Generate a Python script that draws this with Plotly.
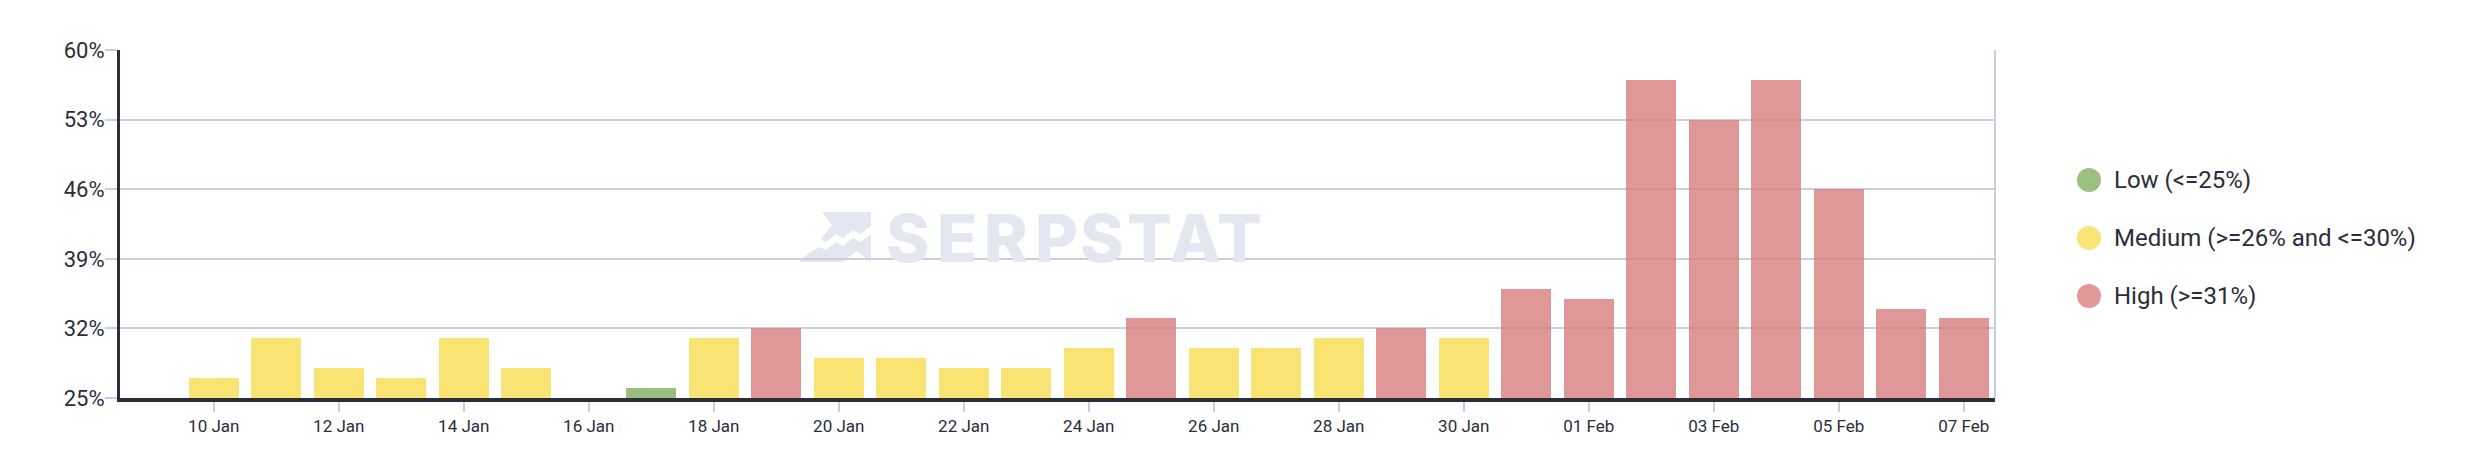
import plotly.graph_objects as go

# Daily share values (%) and their level class
dates = [
    "2024-01-09", "2024-01-10", "2024-01-11", "2024-01-12", "2024-01-13", "2024-01-14",
    "2024-01-15", "2024-01-16", "2024-01-17", "2024-01-18", "2024-01-19", "2024-01-20",
    "2024-01-21", "2024-01-22", "2024-01-23", "2024-01-24", "2024-01-25", "2024-01-26",
    "2024-01-27", "2024-01-28", "2024-01-29", "2024-01-30", "2024-01-31", "2024-02-01",
    "2024-02-02", "2024-02-03", "2024-02-04", "2024-02-05", "2024-02-06", "2024-02-07",
]
values = [
    None, 27, 31, 28, 27, 31,
    28, None, 26, 31, 32, 29,
    29, 28, 28, 30, 33, 30,
    30, 31, 32, 31, 36, 35,
    57, 53, 57, 46, 34, 33,
]
levels = [
    None, "Medium", "Medium", "Medium", "Medium", "Medium",
    "Medium", None, "Low", "Medium", "High", "Medium",
    "Medium", "Medium", "Medium", "Medium", "High", "Medium",
    "Medium", "Medium", "High", "Medium", "High", "High",
    "High", "High", "High", "High", "High", "High",
]

level_names = ["Low", "Medium", "High"]
level_labels = ["Low (<=25%)", "Medium (>=26% and <=30%)", "High (>=31%)"]
level_colors = ["#82af60", "#f7dd51", "#d87f7e"]   # bar colours (drawn at 0.8 opacity)
legend_colors = ["#9bbf80", "#f9e475", "#e09998"]  # as they look over white

y_ticks = [25, 32, 39, 46, 53, 60]

TEXT = "#2b2e38"
GRID = "#c9cfdd"
FONT = "Roboto"

# page is 2476x476, the html body adds an 8px margin around the figure
W, H = 2476, 476
OFF = 8
FIG_W, FIG_H = W - 2 * OFF, H - 2 * OFF
# plot area in page pixels
L, R, T, B = 120, 1995, 50, 398


def px(x):
    return (x - L) / (R - L)


def py(y):
    return (B - y) / (B - T)


color_map = dict(zip(level_names, level_colors))
bar_colors = [color_map.get(lv, level_colors[0]) for lv in levels]

fig = go.Figure()
fig.add_trace(go.Bar(
    x=dates,
    y=values,
    width=0.8 * 86400000,
    marker=dict(color=bar_colors, line=dict(width=0)),
    opacity=0.8,
    showlegend=False,
    hovertemplate="%{x|%d %b}: %{y}%<extra></extra>",
))

# watermark: SERPSTAT logo + text, behind the grid
logo_upper = [(822, 212), (871, 212), (871, 226), (861, 234), (853, 230), (843, 238),
              (836, 234), (826, 242), (821, 239), (832, 225)]
logo_lower = [(798, 262), (842, 262), (857, 251), (871, 262), (871, 234), (861, 242),
              (853, 238), (843, 246), (836, 242), (826, 250), (819, 247), (809, 253)]
shapes = []
for poly in (logo_upper, logo_lower):
    path = "M " + " L ".join(f"{px(x):.5f},{py(y):.5f}" for x, y in poly) + " Z"
    shapes.append(dict(type="path", xref="paper", yref="paper", path=path,
                       fillcolor="#e3e7f0", line=dict(width=0), layer="below"))

# light right border of the plot area
shapes.append(dict(type="line", xref="paper", yref="paper", x0=1, x1=1, y0=0, y1=1,
                   line=dict(color=GRID, width=2), layer="below"))

annotations = []
letters = list("SERPSTAT")
letter_x = [908, 957, 1006, 1056, 1102, 1149, 1195, 1239]
for ch, lx in zip(letters, letter_x):
    annotations.append(dict(
        text=ch, xref="paper", yref="paper", x=px(lx), y=py(238),
        xanchor="center", yanchor="middle", showarrow=False,
        font=dict(family="Inter", size=66, color="#e3e7f0", weight=800),
    ))

# custom legend with round markers
legend_y = [180, 238, 296]
for lab, col, ly in zip(level_labels, legend_colors, legend_y):
    shapes.append(dict(type="circle", xref="paper", yref="paper",
                       xsizemode="pixel", ysizemode="pixel",
                       xanchor=px(2089), yanchor=py(ly),
                       x0=-12, x1=12, y0=-12, y1=12,
                       fillcolor=col, line=dict(width=0)))
    annotations.append(dict(
        text=lab, xref="paper", yref="paper", x=px(2112), y=py(ly),
        xanchor="left", yanchor="middle", showarrow=False,
        font=dict(family=FONT, size=24, color=TEXT),
    ))

fig.update_layout(
    width=FIG_W,
    height=FIG_H,
    margin=dict(l=L - OFF, r=FIG_W - (R - OFF), t=T - OFF, b=FIG_H - (B - OFF)),
    plot_bgcolor="white",
    paper_bgcolor="white",
    font=dict(family=FONT, color=TEXT),
    shapes=shapes,
    annotations=annotations,
    showlegend=False,
    bargap=0,
)

fig.update_xaxes(
    type="date",
    range=["2024-01-08 12:00", "2024-02-07 12:00"],
    tick0="2024-01-10",
    dtick=2 * 86400000,
    tickformat="%d %b",
    ticks="outside",
    ticklen=10,
    tickwidth=2,
    tickcolor=GRID,
    tickfont=dict(size=17, color=TEXT),
    showgrid=False,
    showline=True,
    linecolor=TEXT,
    linewidth=4,
    zeroline=False,
)

fig.update_yaxes(
    range=[25, 60],
    tickvals=y_ticks,
    ticktext=[f"{v}%" for v in y_ticks],
    ticks="outside",
    ticklen=12,
    tickwidth=2,
    tickcolor=GRID,
    tickfont=dict(size=22, color=TEXT),
    ticklabelstandoff=-4,
    showgrid=True,
    gridcolor=GRID,
    gridwidth=2,
    showline=True,
    linecolor=TEXT,
    linewidth=3,
    zeroline=False,
)

fig.write_html("out.html")
